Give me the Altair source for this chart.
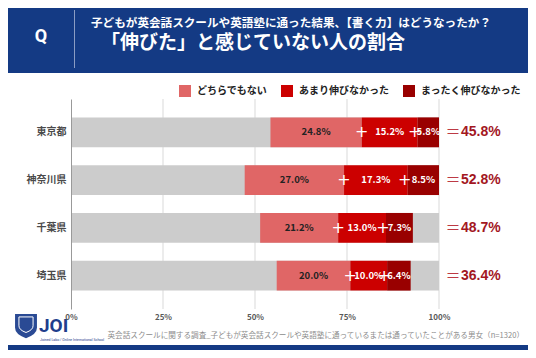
import altair as alt
import pandas as pd

# ---- data ----
prefs = ["東京都", "神奈川県", "千葉県", "埼玉県"]
cats = ["どちらでもない", "あまり伸びなかった", "まったく伸びなかった"]
neither = [24.8, 27.0, 21.2, 20.0]
not_much = [15.2, 17.3, 13.0, 10.0]
not_at_all = [5.8, 8.5, 7.3, 6.4]
totals = [45.8, 52.8, 48.7, 36.4]
offsets = [54.2, 47.2, 51.4, 55.9]   # gray part before the red segments
full = [100, 100, 100, 100]
ticks = [25, 50, 75, 100]

title1 = "子どもが英会話スクールや英語塾に通った結果、【書く力】はどうなったか？"
title2 = "「伸びた」と感じていない人の割合"
footer = "英会話スクールに関する調査_子どもが英会話スクールや英語塾に通っているまたは通っていたことがある男女（n=1320）"

BLUE = "#143a84"
JP = "Noto Sans CJK JP"

rows = []
for i, p in enumerate(prefs):
    x = offsets[i]
    for cat, vals in zip(cats, [neither, not_much, not_at_all]):
        v = vals[i]
        rows.append(dict(pref=p, cat=cat, v=v, x0=x, x1=x + v, mid=x + v / 2,
                         label=f"{v:.1f}%"))
        x += v
seg = pd.DataFrame(rows)
bg = pd.DataFrame(dict(pref=prefs, full=full))
tot = pd.DataFrame(dict(pref=prefs, total=totals,
                        label=[f"{t:.1f}%" for t in totals]))
grid = pd.DataFrame(dict(t=ticks))
one = pd.DataFrame(dict(a=[0]))

xscale = alt.Scale(domain=[0, 100], nice=False, zero=True)
xaxis = alt.Axis(values=[0, 25, 50, 75, 100], labelExpr="datum.value + '%'",
                 title=None, grid=False, domain=False, ticks=False,
                 labelFontSize=8, labelFontWeight="bold", labelColor="#595959",
                 labelFont=JP, labelPadding=4, labelFlush=False, zindex=1)
yscale = alt.Scale(paddingInner=0.375, paddingOuter=0.385)
yaxis = alt.Axis(title=None, ticks=False, domainColor="#999999", grid=False,
                 labelFontSize=10, labelFontWeight="bold", labelColor="#4a4a4a",
                 labelFont=JP, labelPadding=5, zindex=1)
Y = alt.Y("pref:N", sort=prefs, scale=yscale, axis=yaxis)

panel = alt.Chart(one).mark_rect(color="white").encode(
    x=alt.value(-64), x2=alt.value(458), y=alt.value(-26), y2=alt.value(246))

gridlines = alt.Chart(grid).mark_rule(color="#d9d9d9", strokeWidth=1).encode(
    x=alt.X("t:Q", scale=xscale, axis=xaxis))

graybar = alt.Chart(bg).mark_bar(color="#cccccc").encode(
    x=alt.X("full:Q", scale=xscale, axis=xaxis), y=Y)

bars = alt.Chart(seg).mark_bar().encode(
    x=alt.X("x0:Q", scale=xscale, axis=xaxis), x2="x1:Q", y=Y,
    color=alt.Color("cat:N", scale=alt.Scale(domain=cats,
                    range=["#e06666", "#cc0000", "#990000"]),
                    legend=alt.Legend(title=None, orient="none", legendX=108,
                                      legendY=-14, direction="horizontal",
                                      symbolType="square", symbolSize=144,
                                      symbolStrokeWidth=0, labelFontSize=10,
                                      labelFont=JP, labelFontWeight="bold",
                                      labelColor="#222222", labelOffset=6,
                                      columnPadding=14, padding=0, zindex=1)))

seglabels = alt.Chart(seg).mark_text(fontSize=9.5, fontWeight="bold", font=JP).encode(
    x=alt.X("mid:Q", scale=xscale), y=Y, text="label:N",
    color=alt.condition(alt.datum.cat == cats[0], alt.value("#222222"),
                        alt.value("white")))

plus1 = alt.Chart(seg).transform_filter(alt.datum.cat == cats[0]).mark_text(
    fontSize=16, color="white", font="DejaVu Sans", dx=0).encode(
    x=alt.X("x1:Q", scale=xscale), y=Y, text=alt.value("+"))
plus2 = alt.Chart(seg).transform_filter(alt.datum.cat == cats[1]).mark_text(
    fontSize=16, color="white", font="DejaVu Sans", dx=-3).encode(
    x=alt.X("x1:Q", scale=xscale), y=Y, text=alt.value("+"))

eq = alt.Chart(tot).mark_text(fontSize=15, color="#bd3a44", align="center",
                              dx=14, font=JP).encode(
    x=alt.datum(100), y=Y, text=alt.value("＝"))
totlabel = alt.Chart(tot).mark_text(fontSize=14, fontWeight="bold", color="#a3171f",
                                    align="left", dx=22, font="Liberation Sans").encode(
    x=alt.datum(100), y=Y, text="label:N")

q = alt.Chart(one).mark_text(text="Q", fontSize=18, fontWeight="bold", color="white",
                             font="Roboto").encode(x=alt.value(-30), y=alt.value(-62))
sep = alt.Chart(one).mark_rule(color="#8a9cc4", strokeWidth=1).encode(
    x=alt.value(3.5), y=alt.value(-89), y2=alt.value(-31))
t1 = alt.Chart(one).mark_text(text=title1, fontSize=11.6, fontWeight="bold",
                              color="white", align="left", font=JP).encode(
    x=alt.value(20), y=alt.value(-75))
t2 = alt.Chart(one).mark_text(text=title2, fontSize=19, fontWeight="bold",
                              color="white", align="left", font=JP).encode(
    x=alt.value(30), y=alt.value(-56))

shield = alt.Chart(one).mark_point(
    shape="M-1,-1L1,-1L1,0.25Q1,0.85 0,1.2Q-1,0.85 -1,0.25Z",
    size=480, filled=True, color="#2a4a94", opacity=1).encode(
    x=alt.value(-45), y=alt.value(226))
shield_in = alt.Chart(one).mark_point(
    shape="M-1,-1L1,-1L1,0.25Q1,0.85 0,1.2Q-1,0.85 -1,0.25Z",
    size=200, filled=False, color="white", strokeWidth=1, opacity=1).encode(
    x=alt.value(-45), y=alt.value(225))
joi = alt.Chart(one).mark_text(text="JOI", fontSize=19, fontWeight="bold",
                               color="#1f3d8c", align="left", baseline="alphabetic",
                               font="Roboto").encode(x=alt.value(-32), y=alt.value(233))
sub = alt.Chart(one).mark_text(text="Joined Labo / Online International School",
                               fontSize=3.5, color="#1f3d8c", align="left",
                               baseline="top", font="Roboto").encode(
    x=alt.value(-31), y=alt.value(238.5))
foot = alt.Chart(one).mark_text(text=footer, fontSize=7.6, color="#8c8c8c",
                                align="right", font=JP).encode(
    x=alt.value(453), y=alt.value(237))

chart = alt.layer(panel, gridlines, graybar, bars, seglabels, plus1, plus2, eq,
                  totlabel, q, sep, t1, t2, shield, shield_in, joi, sub, foot).properties(
    width=368, height=210,
    autosize=alt.AutoSizeParams(type="none"),
    padding={"left": 63, "top": 91, "right": 89, "bottom": 41},
).configure(background=BLUE).configure_view(stroke=None)

chart.save("out.html", embed_options={"renderer": "svg", "actions": False})
